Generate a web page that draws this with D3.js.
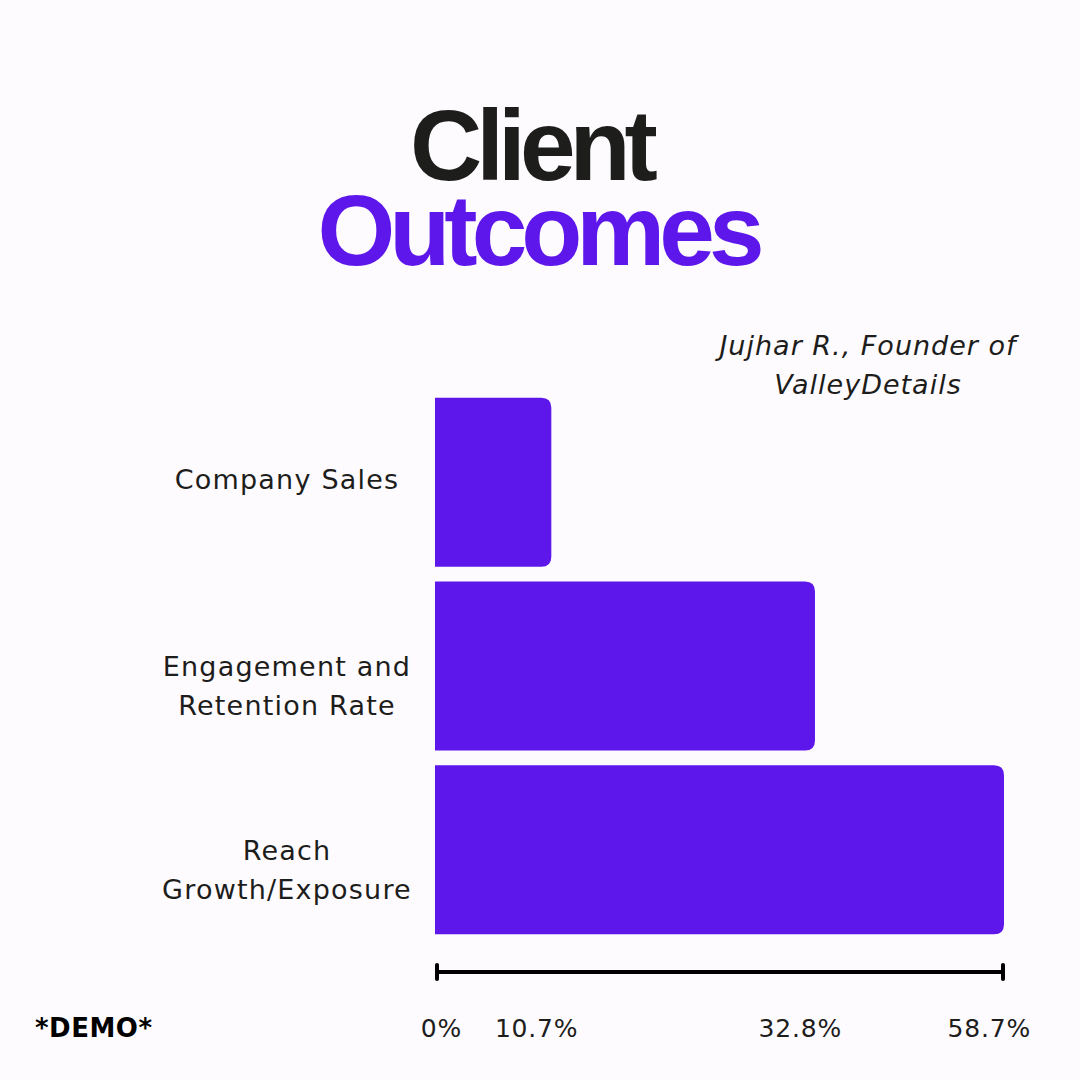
<!DOCTYPE html>
<html>
<head>
<meta charset="utf-8">
<script src="https://cdn.jsdelivr.net/npm/d3@7"></script>
<style>
  html, body { margin: 0; padding: 0; background: #fdfbfe; }
  svg { display: block; }
</style>
</head>
<body>
<svg id="chart" width="1080" height="1080"></svg>
<script>
// ---- data ----
const categories = ["Company Sales", "Engagement and\nRetention Rate", "Reach\nGrowth/Exposure"];
const barValues = [12.0, 39.2, 58.7];          // bar lengths
const tickValues = [0, 12.0, 39.2, 58.7];
const tickLabels = ["0%", "10.7%", "32.8%", "58.7%"];
const titleLines = ["Client", "Outcomes"];
const subtitleLines = ["Jujhar R., Founder of", "ValleyDetails"];
const footnote = "*DEMO*";

const purple = "#5e17eb";
const ink = "#1d1d1b";
const font = "'DejaVu Sans', sans-serif";

const svg = d3.select("#chart");
svg.append("rect").attr("width", 1080).attr("height", 1080).attr("fill", "#fdfbfe");

// title (one text block, two lines)
const title = svg.append("text").attr("text-anchor", "middle")
  .attr("font-family", "'Liberation Sans', Arial, sans-serif").attr("font-weight", 700)
  .attr("font-size", 100).attr("letter-spacing", -6);
title.append("tspan").attr("x", 531).attr("y", 180).attr("fill", ink).text(titleLines[0]);
title.append("tspan").attr("x", 538).attr("y", 265).attr("fill", purple).text(titleLines[1]);

// subtitle
const sub = svg.append("text").attr("text-anchor", "middle")
  .attr("font-family", font).attr("font-style", "italic").attr("font-size", 27)
  .attr("letter-spacing", 1).attr("fill", ink);
subtitleLines.forEach((t, i) => {
  sub.append("tspan").attr("x", 868).attr("y", 355 + i * 39).text(t);
});

// scales
const x = d3.scaleLinear().domain([0, d3.max(barValues)]).range([435, 1004]);
const y = d3.scaleBand().domain(categories).range([390.5, 941.5]).paddingInner(0.08).paddingOuter(0.04);

const r = 10;
function barPath(d, i) {
  const x0 = x(0), x1 = x(d), y0 = y(categories[i]), h = y.bandwidth();
  return `M${x0},${y0}H${x1 - r}Q${x1},${y0} ${x1},${y0 + r}V${y0 + h - r}Q${x1},${y0 + h} ${x1 - r},${y0 + h}H${x0}Z`;
}
svg.append("g").selectAll("path").data(barValues).join("path")
  .attr("d", barPath).attr("fill", purple);

// category labels
const lab = svg.append("g").attr("font-family", font).attr("font-size", 27).attr("fill", ink)
  .attr("letter-spacing", 1.2).attr("text-anchor", "middle");
categories.forEach((c, i) => {
  const lines = c.split("\n");
  const cy = y(c) + y.bandwidth() / 2;
  const t = lab.append("text").attr("x", 287).attr("y", (lines.length === 1 ? cy - 3 : cy) + 10);
  lines.forEach((l, j) => t.append("tspan").attr("x", 287).attr("dy", j === 0 ? 0 : 39).text(l));
});

// axis
const axisG = svg.append("g").attr("transform", "translate(0,972)");
axisG.append("line").attr("x1", x(0) + 2).attr("x2", x(d3.max(barValues)) - 1)
  .attr("stroke", "#000").attr("stroke-width", 4);
[0, d3.max(barValues)].forEach((v, i) => {
  const xx = i === 0 ? x(v) + 2 : x(v) - 1;
  axisG.append("line").attr("x1", xx).attr("x2", xx).attr("y1", -7).attr("y2", 7)
    .attr("stroke", "#000").attr("stroke-width", 4).attr("stroke-linecap", "round");
});

svg.append("g").attr("font-family", font).attr("font-size", 25).attr("letter-spacing", 0.8)
  .attr("fill", ink).attr("text-anchor", "end")
  .selectAll("text").data(tickValues).join("text")
  .attr("x", d => x(d) + 27).attr("y", 1037)
  .text((d, i) => tickLabels[i]);

// footnote
svg.append("text").attr("x", 35).attr("y", 1037).attr("font-family", font).attr("font-weight", 700)
  .attr("font-size", 26).attr("letter-spacing", 0.5).attr("fill", "#000").text(footnote);
</script>
</body>
</html>
